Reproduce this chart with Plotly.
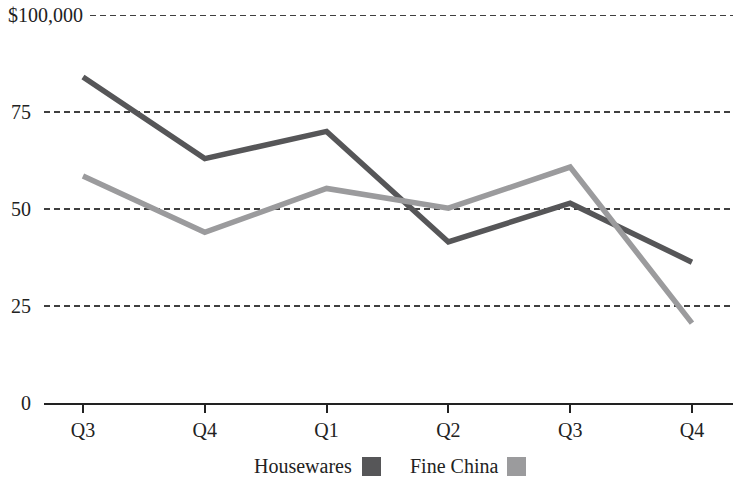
import plotly.graph_objects as go

# Quarterly sales, in thousands of dollars
quarters = ["Q3", "Q4", "Q1", "Q2", "Q3", "Q4"]
housewares = [84, 63, 70, 41.5, 51.5, 36.3]
fine_china = [58.5, 44, 55.3, 50.2, 60.8, 20.6]
y_ticks = [0, 25, 50, 75, 100]
y_tick_labels = ["0", "25", "50", "75", "$100,000"]

series_names = ["Housewares", "Fine China"]
series_colors = ["#565658", "#9b9b9d"]

W, H = 733, 481
M_L, M_R, M_T, M_B = 44, 0, 15, 78
plot_w = W - M_L - M_R
plot_h = H - M_T - M_B

FONT = "Liberation Serif, Times New Roman, serif"
FS = 20
TEXT = "#222222"


def px_x(px):
    return (px - M_L) / plot_w


def px_y(py):
    return (H - M_B - py) / plot_h


x_idx = list(range(len(quarters)))

fig = go.Figure()
for name, vals, col in zip(series_names, [housewares, fine_china], series_colors):
    fig.add_trace(go.Scatter(
        x=x_idx, y=vals, mode="lines", name=name,
        line=dict(color=col, width=5.5),
        showlegend=False, hoverinfo="skip",
    ))

shapes = []
annotations = []

# dashed horizontal guides and the value labels at the left
for v, lab in zip(y_ticks, y_tick_labels):
    if v == 100:
        annotations.append(dict(
            x=px_x(6), y=v, xref="paper", yref="y", text=lab,
            showarrow=False, xanchor="left", yanchor="middle",
            font=dict(family=FONT, size=FS, color=TEXT),
        ))
        x0 = px_x(90)
    else:
        annotations.append(dict(
            x=px_x(33), y=v, xref="paper", yref="y", text=lab,
            showarrow=False, xanchor="right", yanchor="middle",
            font=dict(family=FONT, size=FS, color=TEXT),
        ))
        x0 = 0
    if v == 0:
        continue
    shapes.append(dict(
        type="line", xref="paper", yref="y", x0=x0, x1=1, y0=v, y1=v,
        line=dict(color="#000000", width=1.3, dash="6px,4px"), layer="below",
    ))

# legend: label followed by a colour swatch
legend_items = [(352, 362), (498, 507)]
for name, col, (tx, sx) in zip(series_names, series_colors, legend_items):
    annotations.append(dict(
        x=px_x(tx + 2), y=px_y(466), xref="paper", yref="paper", text=name,
        showarrow=False, xanchor="right", yanchor="middle",
        font=dict(family=FONT, size=FS, color=TEXT),
    ))
    shapes.append(dict(
        type="rect", xref="paper", yref="paper",
        x0=px_x(sx), x1=px_x(sx + 19), y0=px_y(476), y1=px_y(457),
        fillcolor=col, line=dict(width=0),
    ))

fig.update_layout(
    width=W, height=H,
    margin=dict(l=M_L, r=M_R, t=M_T, b=M_B),
    paper_bgcolor="white", plot_bgcolor="white",
    shapes=shapes, annotations=annotations,
    showlegend=False,
    xaxis=dict(
        range=[-0.32, 5.337], tickvals=x_idx, ticktext=quarters,
        showgrid=False, zeroline=False,
        showline=True, linecolor="#222222", linewidth=1.5,
        ticks="outside", ticklen=8, tickwidth=1.5, tickcolor="#222222",
        tickfont=dict(family=FONT, size=FS, color=TEXT),
        fixedrange=True,
    ),
    yaxis=dict(
        range=[0, 100], showgrid=False, zeroline=False,
        showticklabels=False, showline=False, fixedrange=True,
    ),
)

fig.write_html("out.html")
